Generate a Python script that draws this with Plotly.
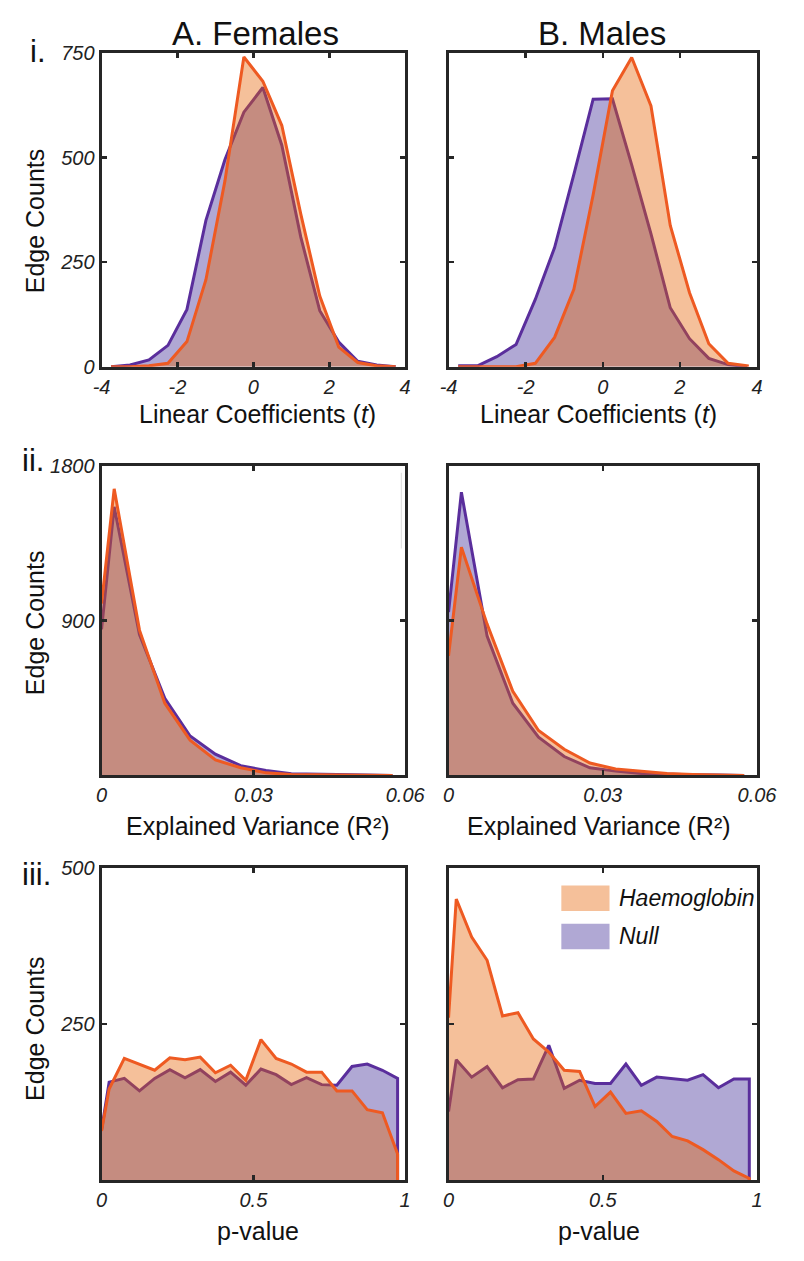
import plotly.graph_objects as go

# ---------------- data ----------------
t_bins = [-3.75, -3.25, -2.75, -2.25, -1.75, -1.25, -0.75, -0.25,
          0.25, 0.75, 1.25, 1.75, 2.25, 2.75, 3.25, 3.75]
fem_t_haem = [0, 0, 2, 8, 60, 208, 444, 741, 683, 577, 365, 169, 47, 10, 2, 0]
fem_t_null = [0, 4, 16, 51, 137, 350, 495, 609, 668, 530, 310, 134, 59, 13, 4, 0]
male_t_haem = [0, 0, 0, 0, 8, 70, 185, 411, 660, 740, 624, 338, 177, 55, 8, 2]
male_t_null = [2, 2, 24, 53, 161, 285, 460, 640, 641, 483, 318, 141, 67, 20, 5, 0]

r2_bins = [0, 0.0025, 0.0075, 0.0125, 0.0175, 0.0225, 0.0275, 0.0325,
           0.0375, 0.0425, 0.0475, 0.0525, 0.0575]
fem_r2_haem = [1000, 1667, 845, 420, 205, 90, 45, 15, 5, 3, 2, 1, 0]
fem_r2_null = [850, 1562, 819, 448, 229, 124, 57, 29, 10, 6, 3, 2, 0]
male_r2_haem = [695, 1327, 880, 489, 261, 152, 72, 38, 25, 11, 6, 3, 1]
male_r2_null = [950, 1647, 810, 420, 223, 110, 44, 25, 11, 6, 4, 2, 1]

p_bins = [0, 0.025, 0.075, 0.125, 0.175, 0.225, 0.275, 0.325, 0.375, 0.425, 0.475,
          0.525, 0.575, 0.625, 0.675, 0.725, 0.775, 0.825, 0.875, 0.925, 0.975]
fem_p_haem = [79, 146, 195, 186, 176, 196, 193, 197, 172, 184, 160,
              225, 195, 186, 173, 173, 143, 143, 113, 108, 42]
fem_p_null = [80, 157, 163, 143, 163, 177, 164, 177, 158, 173, 152,
              178, 169, 153, 164, 153, 152, 182, 186, 176, 163]
male_p_haem = [260, 450, 389, 352, 263, 268, 226, 205, 176, 174, 118,
               141, 107, 111, 94, 70, 63, 49, 33, 15, 3]
male_p_null = [110, 193, 165, 182, 148, 161, 162, 216, 147, 160, 155,
               155, 186, 152, 165, 162, 160, 169, 148, 162, 162]

col_titles = ["A. Females", "B. Males"]
row_labels = ["i.", "ii.", "iii."]
x_titles = ["Linear Coefficients (<i>t</i>)", "Explained Variance (R²)", "p-value"]
y_title = "Edge Counts"
series_names = ["Haemoglobin", "Null"]

x_ranges = [[-4, 4], [0, 0.06], [0, 1]]
x_tickvals = [[-4, -2, 0, 2, 4], [0, 0.03, 0.06], [0, 0.5, 1]]
x_ticktext = [["-4", "-2", "0", "2", "4"], ["0", "0.03", "0.06"], ["0", "0.5", "1"]]
y_ranges = [[0, 750], [0, 1800], [0, 500]]
y_tickvals = [[0, 250, 500, 750], [900, 1800], [250, 500]]
y_ticktext = [["0", "250", "500", "750"], ["900", "1800"], ["250", "500"]]

# ---------------- style ----------------
W, H = 804, 1261
ORANGE_LINE = "#EE5A22"
PURPLE_LINE = "#5A2E9C"
ORANGE_FILL = "rgba(230,98,3,0.4)"
PURPLE_FILL = "rgb(176,168,212)"
ORANGE_SWATCH = "rgb(245,192,154)"
FRAME = "#262626"
FONT = "Liberation Sans, Arial, sans-serif"

col_dom = [[96 / W, 411 / W], [456 / W, 776 / W]]
row_px = [(43, 362), (463, 778), (872, 1190)]
row_dom = [[1 - b / H, 1 - t / H] for t, b in row_px]

panels = [
    [(t_bins, fem_t_null, fem_t_haem), (t_bins, male_t_null, male_t_haem)],
    [(r2_bins, fem_r2_null, fem_r2_haem), (r2_bins, male_r2_null, male_r2_haem)],
    [(p_bins, fem_p_null, fem_p_haem), (p_bins, male_p_null, male_p_haem)],
]

fig = go.Figure()
layout = {}
for r in range(3):
    for c in range(2):
        idx = r * 2 + c + 1
        sfx = "" if idx == 1 else str(idx)
        x, yn, yh = panels[r][c]
        for y, lc, fc, nm in [(yn, PURPLE_LINE, PURPLE_FILL, series_names[1]),
                              (yh, ORANGE_LINE, ORANGE_FILL, series_names[0])]:
            fig.add_trace(go.Scatter(
                x=list(x) + [x[-1]], y=list(y) + [0], mode="lines", fill="tozeroy",
                fillcolor=fc, line=dict(color=lc, width=3), name=nm,
                xaxis="x" + sfx, yaxis="y" + sfx, showlegend=False,
                hoverinfo="skip"))
        common = dict(showline=True, linewidth=3, linecolor=FRAME, mirror="ticks",
                      ticks="inside", ticklen=5, tickwidth=2.5, tickcolor=FRAME,
                      showgrid=False, zeroline=False,
                      tickfont=dict(family=FONT, size=20, color="#222", style="italic"))
        layout["xaxis" + sfx] = dict(domain=col_dom[c], anchor="y" + sfx,
                                     range=x_ranges[r], tickmode="array",
                                     tickvals=x_tickvals[r], ticktext=x_ticktext[r],
                                     **common)
        layout["yaxis" + sfx] = dict(domain=row_dom[r], anchor="x" + sfx,
                                     range=y_ranges[r], tickmode="array",
                                     tickvals=y_tickvals[r], ticktext=y_ticktext[r],
                                     showticklabels=(c == 0), **common)

ann = []
# column titles
for c, cx in enumerate([256, 615]):
    ann.append(dict(text=col_titles[c], x=cx / W, y=1 - 23 / H, xref="paper", yref="paper",
                    showarrow=False, xanchor="center", yanchor="middle",
                    font=dict(family=FONT, size=33, color="#111")))
# row labels
for r, (lx, ly) in enumerate([(20, 41), (11, 457), (11, 879)]):
    ann.append(dict(text=row_labels[r], x=lx / W, y=1 - ly / H, xref="paper", yref="paper",
                    showarrow=False, xanchor="left", yanchor="middle",
                    font=dict(family=FONT, size=31, color="#111")))
# x axis titles
for r, ty in enumerate([410, 829, 1242]):
    for c, cx in enumerate([258, 612]):
        ann.append(dict(text=x_titles[r], x=cx / W, y=1 - ty / H, xref="paper", yref="paper",
                        showarrow=False, xanchor="center", yanchor="middle",
                        font=dict(family=FONT, size=25, color="#111")))
# y axis titles
for r, ty in enumerate([214, 623, 1036]):
    ann.append(dict(text=y_title, x=27 / W, y=1 - ty / H, xref="paper", yref="paper",
                    showarrow=False, xanchor="center", yanchor="middle", textangle=-90,
                    font=dict(family=FONT, size=25, color="#111")))
# legend (inside bottom-right panel)
ann.append(dict(text="<i>" + series_names[0] + "</i>", x=631 / W, y=1 - 903 / H,
                xref="paper", yref="paper", showarrow=False, xanchor="left", yanchor="middle",
                font=dict(family=FONT, size=23, color="#111")))
ann.append(dict(text="<i>" + series_names[1] + "</i>", x=631 / W, y=1 - 941 / H,
                xref="paper", yref="paper", showarrow=False, xanchor="left", yanchor="middle",
                font=dict(family=FONT, size=23, color="#111")))

shapes = [
    dict(type="rect", xref="paper", yref="paper", x0=573 / W, x1=623 / W,
         y0=1 - 916 / H, y1=1 - 890 / H, fillcolor=ORANGE_SWATCH, line=dict(width=0)),
    dict(type="rect", xref="paper", yref="paper", x0=573 / W, x1=623 / W,
         y0=1 - 955 / H, y1=1 - 929 / H, fillcolor=PURPLE_FILL, line=dict(width=0)),
    dict(type="line", xref="paper", yref="paper", x0=407 / W, x1=407 / W,
         y0=1 - 547 / H, y1=1 - 470 / H, line=dict(color="#dcdcdc", width=1)),
]

fig.update_layout(width=W, height=H, margin=dict(l=0, r=0, t=0, b=0),
                  paper_bgcolor="white", plot_bgcolor="white",
                  annotations=ann, shapes=shapes, showlegend=False, **layout)

fig.write_html("out.html", config={"displayModeBar": False, "staticPlot": True},
               post_script="document.body.style.margin='0';document.body.style.overflow='hidden';")
